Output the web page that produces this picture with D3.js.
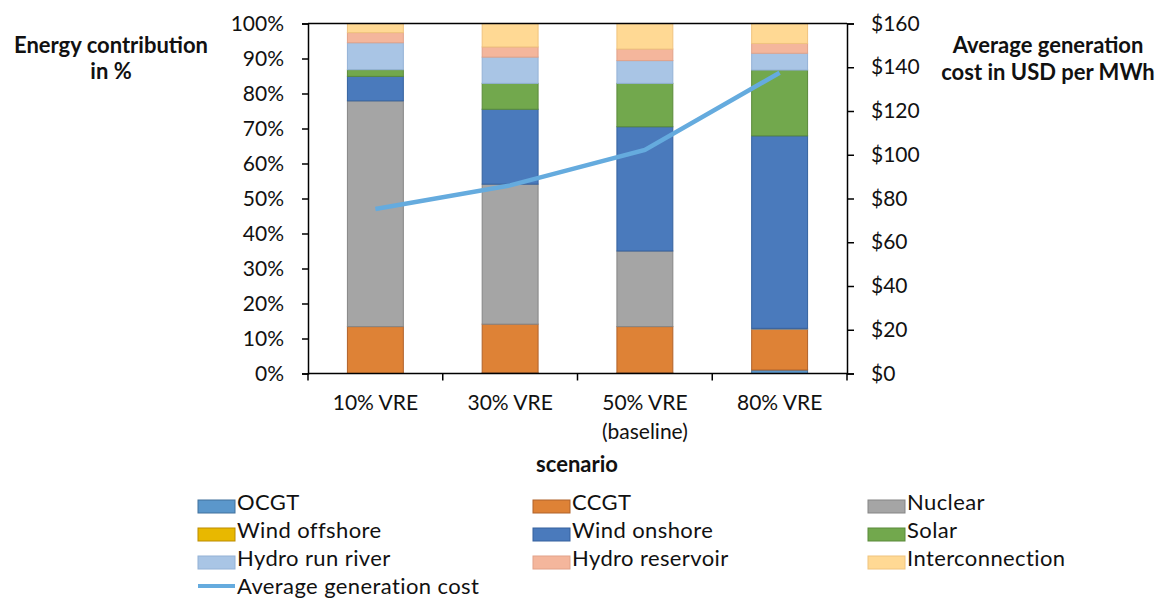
<!DOCTYPE html>
<html>
<head>
<meta charset="utf-8">
<script src="https://cdn.jsdelivr.net/npm/d3@7"></script>
<style>
  body { margin: 0; background: #fff; }
  svg text { font-family: Lato, "Open Sans", sans-serif; fill: #111; }
  .tick text { font-size: 21px; }
  .title { font-size: 22px; font-weight: 700; }
  .legend text { font-size: 22px; letter-spacing: 0.4px; }
</style>
</head>
<body>
<div id="chart"></div>
<script>
// scenarios and stacked shares (% of energy)
const scenarios = ["10% VRE", "30% VRE", "50% VRE", "80% VRE"];
const scenarioSub = ["", "", "(baseline)", ""];

const ocgt = [0, 0.2, 0.2, 1.0];
const ccgt = [13.4, 13.9, 13.2, 11.6];
const nuclear = [64.5, 40.0, 21.6, 0.3];
const windOffshore = [0, 0, 0, 0];
const windOnshore = [7.0, 21.4, 35.5, 55.0];
const solar = [1.9, 7.4, 12.4, 18.8];
const hydroRun = [7.7, 7.5, 6.5, 4.8];
const hydroRes = [2.9, 2.9, 3.3, 2.8];
const interconnection = [2.6, 6.7, 7.3, 5.7];

// average generation cost, USD per MWh
const avgCost = [75.2, 86.0, 102.2, 137.5];

const leftTicks = [0, 10, 20, 30, 40, 50, 60, 70, 80, 90, 100];
const rightTicks = [0, 20, 40, 60, 80, 100, 120, 140, 160];

const seriesNames = ["OCGT", "CCGT", "Nuclear", "Wind offshore", "Wind onshore", "Solar",
  "Hydro run river", "Hydro reservoir", "Interconnection"];
const seriesValues = [ocgt, ccgt, nuclear, windOffshore, windOnshore, solar, hydroRun, hydroRes, interconnection];
const fills = ["#5B97CB", "#DE8236", "#A5A5A5", "#E8B800", "#4A7ABC", "#72A84D", "#A9C5E5", "#F4B69C", "#FFD994"];
const strokes = ["#41719C", "#B0622A", "#858585", "#BC8C00", "#34619E", "#5A8A3A", "#94B2D6", "#E2A289", "#F0C47E"];
const lineColor = "#65ABDE";

const W = 1159, H = 599;
const plot = {left: 308, right: 847, top: 23.5, bottom: 373.5};

const svg = d3.select("#chart").append("svg")
  .attr("width", W)
  .attr("height", H);

const table = scenarios.map(function(s, i) {
  var row = {scenario: s};
  seriesNames.forEach(function(n, j) { row[n] = seriesValues[j][i]; });
  return row;
});

const x = d3.scaleBand()
  .domain(scenarios)
  .range([plot.left, plot.right])
  .paddingInner(0.585)
  .paddingOuter(0.2925);

const y = d3.scaleLinear().domain([0, 100]).range([plot.bottom, plot.top]);
const y2 = d3.scaleLinear().domain([0, 160]).range([plot.bottom, plot.top]);

const stacked = d3.stack().keys(seriesNames)(table);

// bars
svg.append("g").selectAll("g")
  .data(stacked)
  .join("g")
    .attr("fill", function(d, i) { return fills[i]; })
    .attr("stroke", function(d, i) { return strokes[i]; })
    .attr("stroke-width", 1)
  .selectAll("rect")
  .data(function(d) { return d.filter(function(p) { return p[1] - p[0] > 0; }); })
  .join("rect")
    .attr("x", function(d) { return x(d.data.scenario); })
    .attr("width", x.bandwidth())
    .attr("y", function(d) { return y(d[1]); })
    .attr("height", function(d) { return y(d[0]) - y(d[1]); });

// frame line on top
svg.append("line")
  .attr("x1", plot.left).attr("x2", plot.right)
  .attr("y1", plot.top).attr("y2", plot.top)
  .attr("stroke", "#000").attr("stroke-width", 1.5);

// axes
const axL = svg.append("g")
  .attr("transform", "translate(" + plot.left + ",0)")
  .call(d3.axisLeft(y).tickValues(leftTicks).tickFormat(function(d) { return d + "%"; })
    .tickSize(6).tickPadding(18));

const axR = svg.append("g")
  .attr("transform", "translate(" + plot.right + ",0)")
  .call(d3.axisRight(y2).tickValues(rightTicks).tickFormat(function(d) { return "$" + d; })
    .tickSize(7).tickPadding(17));

const axB = svg.append("g")
  .attr("transform", "translate(0," + plot.bottom + ")")
  .call(d3.axisBottom(x).tickSize(0).tickPadding(22));

// category boundary ticks
svg.append("g").selectAll("line")
  .data(d3.range(scenarios.length + 1))
  .join("line")
    .attr("x1", function(i) { return plot.left + i * x.step(); })
    .attr("x2", function(i) { return plot.left + i * x.step(); })
    .attr("y1", plot.bottom)
    .attr("y2", plot.bottom + 7)
    .attr("stroke", "#000")
    .attr("stroke-width", 1.5);

[axL, axR, axB].forEach(function(a) {
  a.selectAll(".domain").attr("stroke", "#000").attr("stroke-width", 1.5);
  a.selectAll(".tick line").attr("stroke", "#000").attr("stroke-width", 1.5);
  a.selectAll(".tick text").attr("fill", "#111").style("font-size", "21px")
    .style("font-family", "Lato, sans-serif");
});
axB.selectAll(".domain").attr("d", "M" + plot.left + ",0H" + plot.right);

// second line of category labels
svg.append("g").selectAll("text")
  .data(scenarios)
  .join("text")
    .attr("x", function(d) { return x(d) + x.bandwidth() / 2; })
    .attr("y", 439)
    .attr("text-anchor", "middle")
    .style("font-size", "21px")
    .text(function(d, i) { return scenarioSub[i]; });

// cost line
const line = d3.line()
  .x(function(d, i) { return x(scenarios[i]) + x.bandwidth() / 2; })
  .y(function(d) { return y2(d); });

svg.append("path")
  .datum(avgCost)
  .attr("d", line)
  .attr("fill", "none")
  .attr("stroke", lineColor)
  .attr("stroke-width", 4.5);

// titles
svg.append("text").attr("class", "title")
  .attr("x", 111).attr("y", 53).attr("text-anchor", "middle")
  .text("Energy contribution");
svg.append("text").attr("class", "title")
  .attr("x", 111).attr("y", 79).attr("text-anchor", "middle")
  .text("in %");

svg.append("text").attr("class", "title")
  .attr("x", 1048).attr("y", 53).attr("text-anchor", "middle")
  .text("Average generation");
svg.append("text").attr("class", "title")
  .attr("x", 1048).attr("y", 80).attr("text-anchor", "middle")
  .text("cost in USD per MWh");

svg.append("text").attr("class", "title")
  .attr("x", 577).attr("y", 472).attr("text-anchor", "middle")
  .text("scenario");

// legend
const colX = [198, 533, 868];
const rowY = [510, 538, 566, 594];

const legend = svg.append("g").attr("class", "legend");

const item = legend.selectAll("g")
  .data(seriesNames)
  .join("g")
    .attr("transform", function(d, i) {
      return "translate(" + colX[i % 3] + "," + rowY[Math.floor(i / 3)] + ")";
    });

item.append("rect")
  .attr("x", 0).attr("y", -10)
  .attr("width", 37).attr("height", 13)
  .attr("fill", function(d, i) { return fills[i]; })
  .attr("stroke", function(d, i) { return strokes[i]; })
  .attr("stroke-width", 1);

item.append("text")
  .attr("x", 39).attr("y", 0)
  .text(function(d) { return d; });

const lineItem = legend.append("g")
  .attr("transform", "translate(" + colX[0] + "," + rowY[3] + ")");
lineItem.append("line")
  .attr("x1", 0).attr("x2", 37)
  .attr("y1", -8).attr("y2", -8)
  .attr("stroke", lineColor)
  .attr("stroke-width", 4);
lineItem.append("text")
  .attr("x", 39).attr("y", 0)
  .text("Average generation cost");
</script>
</body>
</html>
